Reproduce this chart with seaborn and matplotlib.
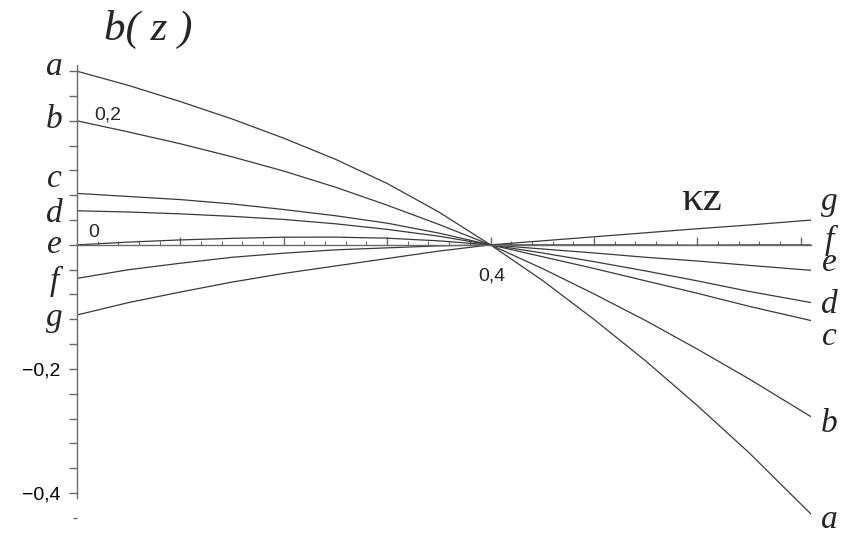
"""Family of b(z) curves crossing at kz = 0.4."""

import numpy as np
import pandas as pd
import matplotlib
matplotlib.use("Agg")
import matplotlib.pyplot as plt
from matplotlib.ticker import FixedLocator, FuncFormatter
import seaborn as sns

# values
kz = [0.0, 0.05, 0.1, 0.15, 0.2, 0.25, 0.3, 0.35, 0.4,
      0.45, 0.5, 0.55, 0.6, 0.65, 0.71]
curve_names = ["a", "b", "c", "d", "e", "f", "g"]
b_a = [0.280, 0.257, 0.231, 0.203, 0.172, 0.138, 0.099, 0.053, 0.0,
       -0.057, -0.120, -0.187, -0.259, -0.335, -0.434]
b_b = [0.200, 0.182, 0.163, 0.142, 0.119, 0.093, 0.064, 0.033, 0.0,
       -0.038, -0.079, -0.122, -0.168, -0.216, -0.277]
b_c = [0.083, 0.078, 0.073, 0.066, 0.057, 0.047, 0.035, 0.019, 0.0,
       -0.019, -0.038, -0.058, -0.078, -0.099, -0.122]
b_d = [0.055, 0.053, 0.050, 0.046, 0.041, 0.034, 0.025, 0.014, 0.0,
       -0.013, -0.027, -0.042, -0.058, -0.075, -0.093]
b_e = [0.0, 0.0045, 0.008, 0.0105, 0.0124, 0.0125, 0.0108, 0.0065, 0.0,
       -0.0066, -0.013, -0.020, -0.026, -0.033, -0.041]
b_f = [-0.054, -0.040, -0.0296, -0.020, -0.0134, -0.008, -0.0048, -0.0016, 0.0,
       0.0, 0.0, 0.0, -0.0005, 0.0, 0.0]
b_g = [-0.113, -0.093, -0.076, -0.060, -0.046, -0.034, -0.022, -0.010, 0.0,
       0.0065, 0.013, 0.0195, 0.026, 0.032, 0.040]
curve_values = [b_a, b_b, b_c, b_d, b_e, b_f, b_g]

y_ticks = [round(0.04 * k, 2) for k in range(-10, 8)]
y_labeled = {-0.2: "\u22120,2", -0.4: "\u22120,4"}

# label placement (data coords: x, baseline y)
left_label_y = [0.274, 0.189, 0.0935, 0.037, -0.013, -0.0726, -0.131]
right_label_y = [-0.456, -0.302, -0.161, -0.110, -0.0415, -0.007, 0.0565]

LINE = "#3a3a3a"
AXIS = "#6a6a6a"

sns.set_style("ticks")
plt.rcParams["font.family"] = ["Liberation Sans", "DejaVu Sans"]

df = pd.DataFrame({
    "kz": np.tile(kz, len(curve_names)),
    "b": np.concatenate(curve_values),
    "curve": np.repeat(curve_names, len(kz)),
})

fig = plt.figure(figsize=(8.51, 5.37), dpi=100)
ax = fig.add_axes([77 / 851, 1 - 524 / 537, (811 - 77) / 851, (524 - 65) / 537])

sns.lineplot(data=df, x="kz", y="b", units="curve", estimator=None,
             color=LINE, linewidth=0.9, sort=True, ax=ax, legend=False)

ax.set_xlim(0, 0.71)
ax.set_ylim(-0.45, 0.29)

# axes through the origin
for side in ("top", "right"):
    ax.spines[side].set_visible(False)
ax.spines["bottom"].set_position(("data", 0))
ax.spines["left"].set_bounds(-0.408, 0.29)
for side in ("bottom", "left"):
    ax.spines[side].set_color(AXIS)
    ax.spines[side].set_linewidth(1.0)

ax.xaxis.set_major_locator(FixedLocator([0.1, 0.2, 0.3, 0.4, 0.5, 0.6, 0.7]))
ax.xaxis.set_minor_locator(FixedLocator(np.round(np.arange(0.02, 0.71, 0.02), 2)))
ax.tick_params(axis="x", which="major", bottom=True, direction="in", length=6,
               width=1, color=AXIS, labelbottom=False)
ax.tick_params(axis="x", which="minor", bottom=True, direction="in", length=3,
               width=0.8, color=AXIS)

ax.yaxis.set_major_locator(FixedLocator(y_ticks))
ax.yaxis.set_minor_locator(FixedLocator([-0.44]))
ax.yaxis.set_major_formatter(
    FuncFormatter(lambda v, _: y_labeled.get(round(v, 2), "")))
ax.tick_params(axis="y", which="major", left=True, direction="out", length=6,
               width=1, color=AXIS, pad=6, labelsize=14, labelcolor="black")
ax.tick_params(axis="y", which="minor", left=True, direction="out", length=3,
               width=1, color=AXIS)
ax.set_xlabel("")
ax.set_ylabel("")

# tick texts placed inside the plot
ax.text(0.030, 0.2016, "0,2", fontsize=14, ha="center", va="baseline")
ax.text(0.0164, 0.0129, "0", fontsize=14, ha="center", va="baseline")
ax.text(0.401, -0.058, "0,4", fontsize=14, ha="center", va="baseline")

# axis titles
serif = ["Liberation Serif", "DejaVu Serif"]
ax.text(0.0686, 0.331, "b( z )", fontsize=31, style="italic", family=serif,
        ha="center", va="baseline", clip_on=False)
ax.text(0.604, 0.0565, "\u03baz", fontsize=31, family=serif,
        ha="center", va="baseline")

# curve letters at both ends
for name, ly, ry in zip(curve_names, left_label_y, right_label_y):
    ax.text(-0.0222, ly, name, fontsize=24, style="italic", family=serif,
            ha="center", va="baseline", clip_on=False)
    ax.text(0.7275, ry, name, fontsize=24, style="italic", family=serif,
            ha="center", va="baseline", clip_on=False)

fig.savefig("out.png", dpi=100)
plt.close(fig)
